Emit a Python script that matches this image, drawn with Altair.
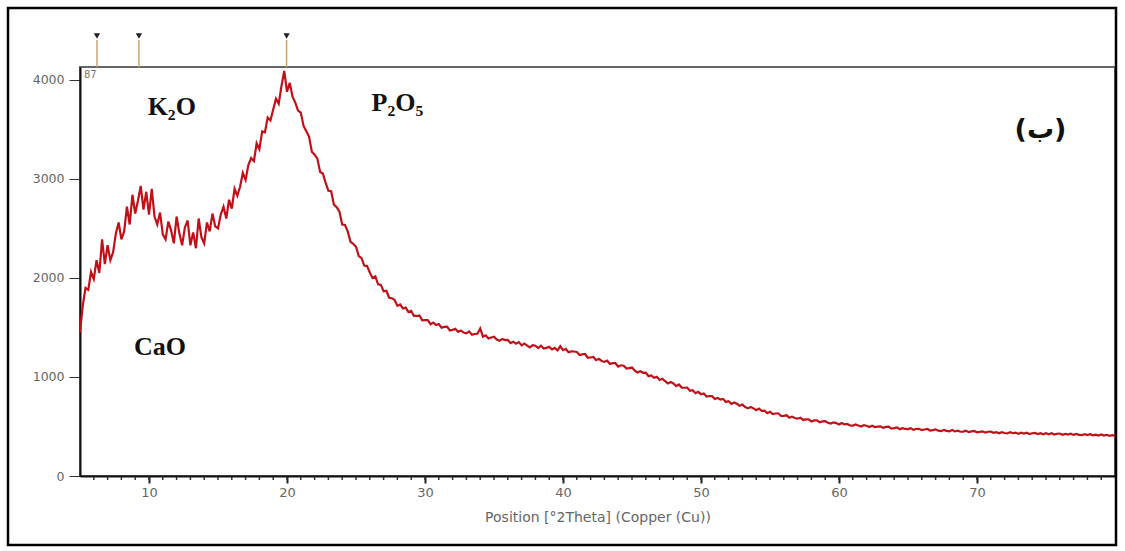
import altair as alt
import pandas as pd

# Diffractometer scan: 2-theta from 5 to 80 degrees in 0.2 degree steps
scan_start = 5.0
scan_step = 0.2
counts = [
    1450, 1720, 1900, 1880, 2060, 1990, 2180, 2050, 2390, 2140,
    2330, 2180, 2260, 2450, 2560, 2390, 2470, 2720, 2540, 2840,
    2650, 2780, 2930, 2690, 2870, 2640, 2900, 2620, 2540, 2660,
    2440, 2390, 2570, 2480, 2350, 2620, 2450, 2330, 2510, 2580,
    2330, 2460, 2300, 2600, 2410, 2350, 2560, 2470, 2650, 2520,
    2500, 2640, 2720, 2600, 2790, 2700, 2900, 2830, 2920, 3060,
    2990, 3140, 3210, 3180, 3360, 3300, 3480, 3470, 3620, 3590,
    3700, 3810, 3760, 3940, 4090, 3880, 3970, 3830, 3770, 3690,
    3670, 3535, 3480, 3425, 3275, 3245, 3205, 3070, 3055, 2960,
    2880, 2875, 2740, 2715, 2670, 2540, 2535, 2470, 2365, 2345,
    2315, 2220, 2200, 2125, 2120, 2055, 2000, 2015, 1935, 1930,
    1865, 1870, 1800, 1795, 1778, 1718, 1732, 1692, 1700, 1656,
    1668, 1616, 1616, 1620, 1572, 1573, 1574, 1533, 1549, 1524,
    1534, 1498, 1505, 1508, 1470, 1476, 1486, 1454, 1468, 1448,
    1441, 1460, 1427, 1434, 1437, 1490, 1407, 1420, 1388, 1398,
    1406, 1378, 1365, 1384, 1372, 1374, 1342, 1356, 1335, 1352,
    1319, 1338, 1317, 1299, 1322, 1315, 1291, 1315, 1287, 1294,
    1304, 1278, 1293, 1269, 1310, 1270, 1283, 1250, 1258, 1257,
    1252, 1222, 1228, 1232, 1194, 1197, 1202, 1169, 1183, 1162,
    1152, 1166, 1132, 1139, 1139, 1104, 1118, 1113, 1085, 1090,
    1095, 1064, 1046, 1058, 1042, 1043, 1008, 1015, 991, 1001,
    970, 982, 957, 935, 949, 934, 907, 924, 893, 891,
    893, 861, 866, 836, 850, 826, 834, 803, 808, 806,
    778, 789, 772, 779, 748, 755, 728, 743, 729, 710,
    721, 697, 683, 697, 683, 664, 680, 657, 661, 635,
    649, 626, 631, 633, 606, 608, 613, 589, 600, 586,
    579, 589, 566, 572, 573, 550, 561, 561, 543, 551,
    553, 537, 529, 542, 534, 521, 536, 521, 525, 510,
    508, 521, 509, 500, 514, 508, 495, 507, 494, 499,
    501, 486, 496, 498, 479, 484, 491, 473, 483, 475,
    473, 483, 466, 475, 477, 463, 470, 475, 459, 463,
    470, 458, 453, 465, 456, 450, 464, 450, 458, 447,
    448, 457, 443, 451, 455, 441, 445, 451, 439, 447,
    448, 436, 443, 432, 443, 434, 430, 442, 432, 437,
    427, 437, 429, 437, 424, 432, 435, 424, 433, 422,
    432, 422, 432, 419, 427, 429, 416, 426, 419, 427,
    415, 425, 416, 412, 423, 413, 422, 411, 418, 409,
    419, 409, 416, 406, 413, 408,
]
two_theta = [round(scan_start + scan_step * i, 1) for i in range(len(counts))]

# Reference-pattern peak markers along the top edge
marker_positions = [6.23, 9.27, 19.97]

# Phase labels
label_text = ["K\u2082O", "P\u2082O\u2085", "CaO"]
label_x = [11.65, 28.0, 10.8]
label_y = [3727, 3768, 1303]

panel_text = ["(\u0628)"]
panel_x = [74.6]
panel_y = [3495]

minor_ticks = list(range(6, 80))
x_major = [10, 20, 30, 40, 50, 60, 70]
y_major = [0, 1000, 2000, 3000, 4000]

X_DOMAIN = [5, 80]
Y_DOMAIN = [0, 4130]
W, H = 1035, 409

scan = pd.DataFrame({"two_theta": two_theta, "counts": counts})
markers = pd.DataFrame({"pos": marker_positions})
labels = pd.DataFrame({"text": label_text, "x": label_x, "y": label_y})
panel = pd.DataFrame({"text": panel_text, "x": panel_x, "y": panel_y})
minors = pd.DataFrame({"pos": minor_ticks})

xs = alt.Scale(domain=X_DOMAIN, nice=False, zero=False)
ys = alt.Scale(domain=Y_DOMAIN, nice=False)

x_axis = alt.Axis(
    values=x_major, grid=False, tickSize=7, tickColor="#222", tickWidth=2,
    domainColor="#111", domainWidth=2, labelColor="#666", labelFont="DejaVu Sans",
    labelFontSize=13, labelPadding=3, title="Position [\u00b02Theta] (Copper (Cu))",
    titleFont="DejaVu Sans", titleFontSize=14, titleFontWeight="normal",
    titleColor="#666", titlePadding=11,
)
y_axis = alt.Axis(
    values=y_major, format="d", grid=False, tickSize=11, tickColor="#333", tickWidth=1,
    domainColor="#111", domainWidth=2, labelColor="#666", labelFont="DejaVu Sans",
    labelFontSize=12.5, labelPadding=5, title=None,
)

line = alt.Chart(scan).mark_line(color="#c21019", strokeWidth=2.2, clip=True).encode(
    x=alt.X("two_theta:Q", scale=xs, axis=x_axis),
    y=alt.Y("counts:Q", scale=ys, axis=y_axis),
)

minor = alt.Chart(minors).mark_rule(color="#333", strokeWidth=1.5).encode(
    x=alt.X("pos:Q", scale=xs),
    y=alt.value(H + 1),
    y2=alt.value(H + 4),
)

marker_rules = alt.Chart(markers).mark_rule(color="#c9a46a", strokeWidth=1.5).encode(
    x=alt.X("pos:Q", scale=xs),
    y=alt.value(-27),
    y2=alt.value(0),
)

marker_heads = alt.Chart(markers).mark_point(
    shape="triangle-down", filled=True, color="#222", size=40, opacity=1
).encode(
    x=alt.X("pos:Q", scale=xs),
    y=alt.value(-31),
)

scan_id = alt.Chart(pd.DataFrame({"t": ["87"]})).mark_text(
    font="DejaVu Sans", fontSize=10, color="#777", align="left", baseline="top", dx=4, dy=3
).encode(
    text="t:N",
    x=alt.value(0),
    y=alt.value(0),
)

phase_labels = alt.Chart(labels).mark_text(
    font="Liberation Serif", fontSize=26, fontWeight="bold", color="#111",
    align="center", baseline="middle",
).encode(
    x=alt.X("x:Q", scale=xs),
    y=alt.Y("y:Q", scale=ys),
    text="text:N",
)

panel_label = alt.Chart(panel).mark_text(
    font="DejaVu Sans", fontSize=27, fontWeight="bold", color="#111",
    align="center", baseline="middle",
).encode(
    x=alt.X("x:Q", scale=xs),
    y=alt.Y("y:Q", scale=ys),
    text="text:N",
)

# Outer border around the whole figure
border = alt.Chart(pd.DataFrame({"k": [0]})).mark_rect(
    fill=None, stroke="#000", strokeWidth=2.5, clip=False
).encode(
    x=alt.value(-72), x2=alt.value(1036),
    y=alt.value(-59), y2=alt.value(478),
)

chart = (
    alt.layer(border, minor, line, marker_rules, marker_heads, scan_id, phase_labels, panel_label)
    .properties(
        width=W, height=H,
        autosize=alt.AutoSizeParams(type="none"),
        padding={"left": 80, "top": 67, "right": 10, "bottom": 75},
        background="white",
    )
    .configure_view(stroke="#666", strokeWidth=2)
)

chart.save("out.html", embed_options={"renderer": "svg", "actions": False})
